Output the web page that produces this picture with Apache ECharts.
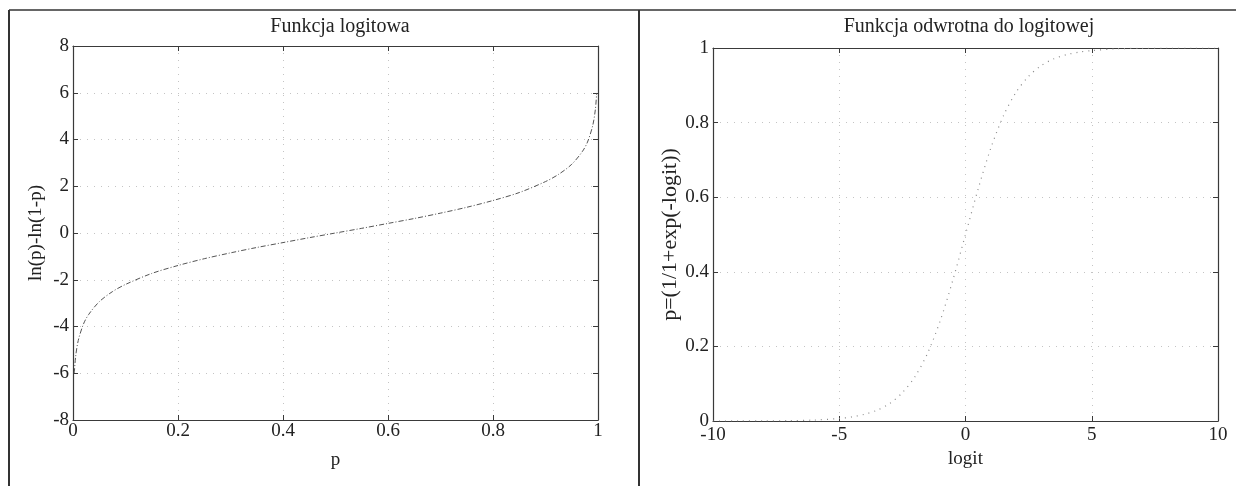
<!DOCTYPE html>
<html>
<head>
<meta charset="utf-8">
<script src="https://cdn.jsdelivr.net/npm/echarts@6/dist/echarts.min.js"></script>
<style>
html,body{margin:0;padding:0;background:#fff;}
#c{width:1238px;height:486px;}
</style>
</head>
<body>
<div id="c"></div>
<script>
// ---- Left panel: logit function ----
var leftTitle = 'Funkcja logitowa';
var leftXName = 'p';
var leftYName = 'ln(p)-ln(1-p)';
var pValues = [0.0025, 0.005, 0.01, 0.02, 0.03, 0.05, 0.075, 0.1, 0.15, 0.2, 0.25, 0.3, 0.35, 0.4, 0.45, 0.5, 0.55, 0.6, 0.65, 0.7, 0.75, 0.8, 0.85, 0.9, 0.925, 0.95, 0.97, 0.98, 0.99, 0.995, 0.9975];
var logitValues = [-5.99, -5.29, -4.60, -3.89, -3.48, -2.94, -2.51, -2.20, -1.73, -1.39, -1.10, -0.85, -0.62, -0.41, -0.20, 0, 0.20, 0.41, 0.62, 0.85, 1.10, 1.39, 1.73, 2.20, 2.51, 2.94, 3.48, 3.89, 4.60, 5.29, 5.99];
var leftXTicks = [0, 0.2, 0.4, 0.6, 0.8, 1];
var leftYTicks = [-8, -6, -4, -2, 0, 2, 4, 6, 8];

// ---- Right panel: inverse logit ----
var rightTitle = 'Funkcja odwrotna do logitowej';
var rightXName = 'logit';
var rightYName = 'p=(1/1+exp(-logit))';
var logitX = [-10, -9, -8, -7, -6, -5, -4.5, -4, -3.5, -3, -2.5, -2, -1.5, -1, -0.5, 0, 0.5, 1, 1.5, 2, 2.5, 3, 3.5, 4, 4.5, 5, 6, 7, 8, 9, 10];
var probY = [0.0000, 0.0001, 0.0003, 0.0009, 0.0025, 0.0067, 0.011, 0.018, 0.029, 0.047, 0.076, 0.119, 0.182, 0.269, 0.378, 0.5, 0.622, 0.731, 0.818, 0.881, 0.924, 0.953, 0.971, 0.982, 0.989, 0.993, 0.998, 0.999, 1.0, 1.0, 1.0];
var rightXTicks = [-10, -5, 0, 5, 10];
var rightYTicks = [0, 0.2, 0.4, 0.6, 0.8, 1];

var FONT = '"Liberation Serif", "DejaVu Serif", serif';
var AX = '#3a3a3a';

function zip(a, b) { return a.map(function (v, i) { return [v, b[i]]; }); }

function axisPair(gridIndex, ticks, isX, opts) {
  var min = ticks[0], max = ticks[ticks.length - 1], interval = ticks[1] - ticks[0];
  var main = {
    type: 'value', gridIndex: gridIndex, min: min, max: max, interval: interval,
    position: isX ? 'bottom' : 'left',
    name: opts.name, nameLocation: 'middle', nameGap: opts.nameGap,
    nameRotate: isX ? 0 : 90,
    nameTextStyle: { fontFamily: FONT, fontSize: opts.nameSize, color: '#222' },
    axisLine: { show: true, onZero: false, lineStyle: { color: AX, width: 1.2 } },
    axisTick: { show: true, inside: true, length: 5, lineStyle: { color: AX } },
    axisLabel: { fontFamily: FONT, fontSize: 19, color: '#222', margin: opts.labelMargin,
      formatter: function (v) { return String(+v.toFixed(4)); } },
    splitLine: { show: true, lineStyle: { color: '#c4c4c4', type: [1, 6], width: 1 } }
  };
  var mirror = {
    type: 'value', gridIndex: gridIndex, min: min, max: max, interval: interval,
    position: isX ? 'top' : 'right',
    axisLine: { show: true, onZero: false, lineStyle: { color: AX, width: 1.2 } },
    axisTick: { show: true, inside: true, length: 5, lineStyle: { color: AX } },
    axisLabel: { show: false },
    splitLine: { show: false }
  };
  return [main, mirror];
}

var lx = axisPair(0, leftXTicks, true, { name: leftXName, nameGap: 31, nameSize: 19, labelMargin: 2 });
var ly = axisPair(0, leftYTicks, false, { name: leftYName, nameGap: 27, nameSize: 19, labelMargin: 4 });
var rx = axisPair(1, rightXTicks, true, { name: rightXName, nameGap: 28, nameSize: 19, labelMargin: 5 });
var ry = axisPair(1, rightYTicks, false, { name: rightYName, nameGap: 28, nameSize: 22, labelMargin: 4 });

var chart = echarts.init(document.getElementById('c'), null, { renderer: 'canvas' });
chart.setOption({
  backgroundColor: '#ffffff',
  animation: false,
  title: [
    { text: leftTitle, left: 335, top: 12, textAlign: 'center',
      textStyle: { fontFamily: FONT, fontSize: 20, fontWeight: 'normal', color: '#222' } },
    { text: rightTitle, left: 964, top: 12, textAlign: 'center',
      textStyle: { fontFamily: FONT, fontSize: 20, fontWeight: 'normal', color: '#222' } }
  ],
  grid: [
    { left: 73, right: 640, top: 46, bottom: 66 },
    { left: 713, right: 20, top: 48, bottom: 65 }
  ],
  xAxis: [lx[0], lx[1], rx[0], rx[1]],
  yAxis: [ly[0], ly[1], ry[0], ry[1]],
  series: [
    { type: 'line', xAxisIndex: 0, yAxisIndex: 0, data: zip(pValues, logitValues),
      showSymbol: false, smooth: 0.3,
      lineStyle: { color: '#555', width: 1, type: [5, 2, 1, 2] } },
    { type: 'line', xAxisIndex: 2, yAxisIndex: 2, data: zip(logitX, probY),
      showSymbol: false, smooth: 0.3,
      lineStyle: { color: '#8a8a8a', width: 1.2, type: [1, 5] } }
  ],
  graphic: [
    { type: 'line', shape: { x1: 9, y1: 10, x2: 1236, y2: 10 }, style: { stroke: '#333', lineWidth: 1.5 } },
    { type: 'line', shape: { x1: 9, y1: 10, x2: 9, y2: 486 }, style: { stroke: '#333', lineWidth: 2 } },
    { type: 'line', shape: { x1: 639, y1: 10, x2: 639, y2: 486 }, style: { stroke: '#333', lineWidth: 2 } }
  ]
});
</script>
</body>
</html>
